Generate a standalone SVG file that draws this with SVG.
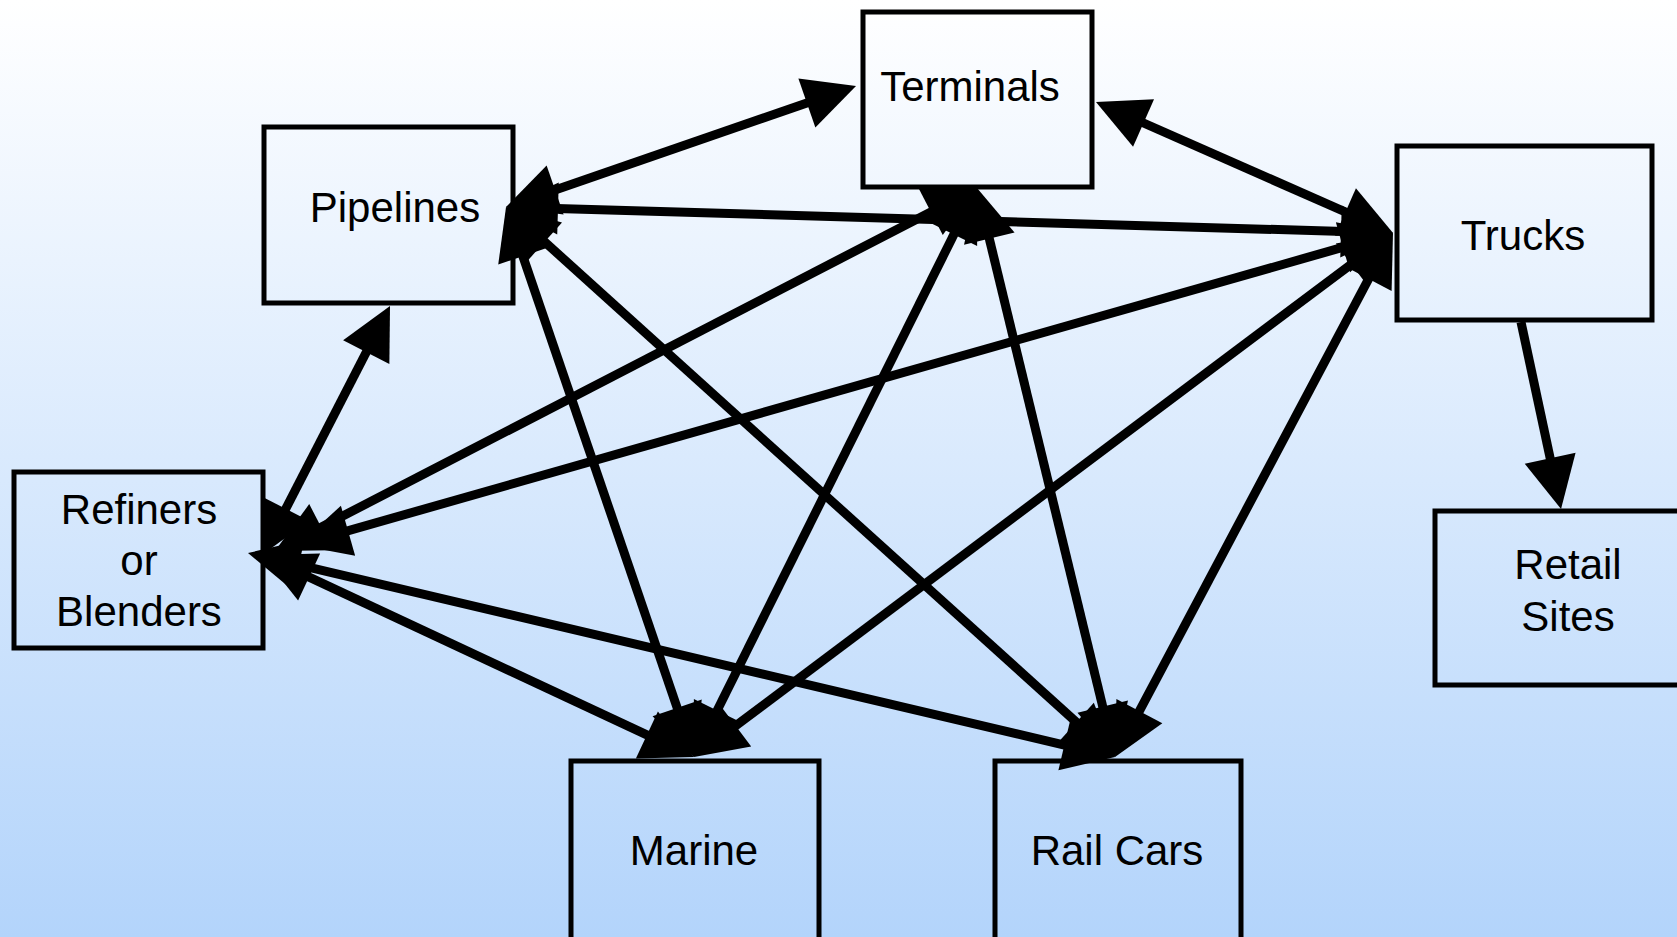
<svg xmlns="http://www.w3.org/2000/svg" width="1677" height="937" viewBox="0 0 1677 937">
<defs>
<linearGradient id="bg" x1="0" y1="0" x2="0" y2="1">
<stop offset="0" stop-color="#ffffff"/>
<stop offset="1" stop-color="#b3d4fb"/>
</linearGradient>
<marker id="ah" markerUnits="userSpaceOnUse" markerWidth="52" markerHeight="52" refX="36" refY="26" orient="auto-start-reverse" overflow="visible">
<path d="M0,0 L52,26 L0,52 z" fill="#000"/>
</marker>
</defs>
<style>
.box{fill:none;stroke:#000;stroke-width:5}
.lbl{font-family:"Liberation Sans",Arial,sans-serif;font-size:42px;fill:#000;text-anchor:middle}
.e{stroke:#000;stroke-width:9;fill:none;marker-end:url(#ah)}
.b{marker-start:url(#ah)}
</style>
<rect x="0" y="0" width="1677" height="937" fill="url(#bg)"/>
<g id="connectors">
<line class="e b" x1="521.1" y1="201.8" x2="840.9" y2="91.2"/>
<line class="e b" x1="1110.6" y1="108.5" x2="1378.4" y2="226.5"/>
<line class="e b" x1="522" y1="207.5" x2="1377" y2="232.5"/>
<line class="e b" x1="269.3" y1="540.8" x2="382.7" y2="320.2"/>
<line class="e b" x1="289.2" y1="543.7" x2="962.8" y2="195.4"/>
<line class="e b" x1="313.4" y1="540.6" x2="1377.6" y2="237.4"/>
<line class="e b" x1="276.5" y1="561.8" x2="679.5" y2="750.2"/>
<line class="e b" x1="263.6" y1="556.7" x2="1099.4" y2="753.3"/>
<line class="e b" x1="511.2" y1="222.1" x2="688.8" y2="741.9"/>
<line class="e b" x1="517.9" y1="217.7" x2="1103.1" y2="746.3"/>
<line class="e b" x1="969.9" y1="202.3" x2="701.1" y2="742.7"/>
<line class="e b" x1="980.8" y1="203.6" x2="1111.2" y2="741.5"/>
<line class="e b" x1="1380.2" y1="242.6" x2="706.8" y2="747.4"/>
<line class="e b" x1="1385.5" y1="247.1" x2="1122.5" y2="742.9"/>
<line class="e" x1="1521" y1="322" x2="1557.7" y2="493.4"/>
</g>
<g id="terminals"><rect class="box" x="863" y="12" width="229" height="175"/><text class="lbl" x="970" y="101">Terminals</text></g>
<g id="pipelines"><rect class="box" x="264" y="127" width="249" height="176"/><text class="lbl" x="395" y="222">Pipelines</text></g>
<g id="refiners"><rect class="box" x="14" y="472" width="249" height="176"/><text class="lbl" x="139" y="524">Refiners</text><text class="lbl" x="139" y="575">or</text><text class="lbl" x="139" y="626">Blenders</text></g>
<g id="trucks"><rect class="box" x="1397" y="146" width="255" height="174"/><text class="lbl" x="1523" y="250">Trucks</text></g>
<g id="retail"><rect class="box" x="1435" y="511" width="250" height="174"/><text class="lbl" x="1568" y="579">Retail</text><text class="lbl" x="1568" y="631">Sites</text></g>
<g id="marine"><rect class="box" x="571" y="761" width="248" height="180"/><text class="lbl" x="694" y="865">Marine</text></g>
<g id="railcars"><rect class="box" x="995" y="761" width="246" height="180"/><text class="lbl" x="1117" y="865">Rail Cars</text></g>
</svg>
